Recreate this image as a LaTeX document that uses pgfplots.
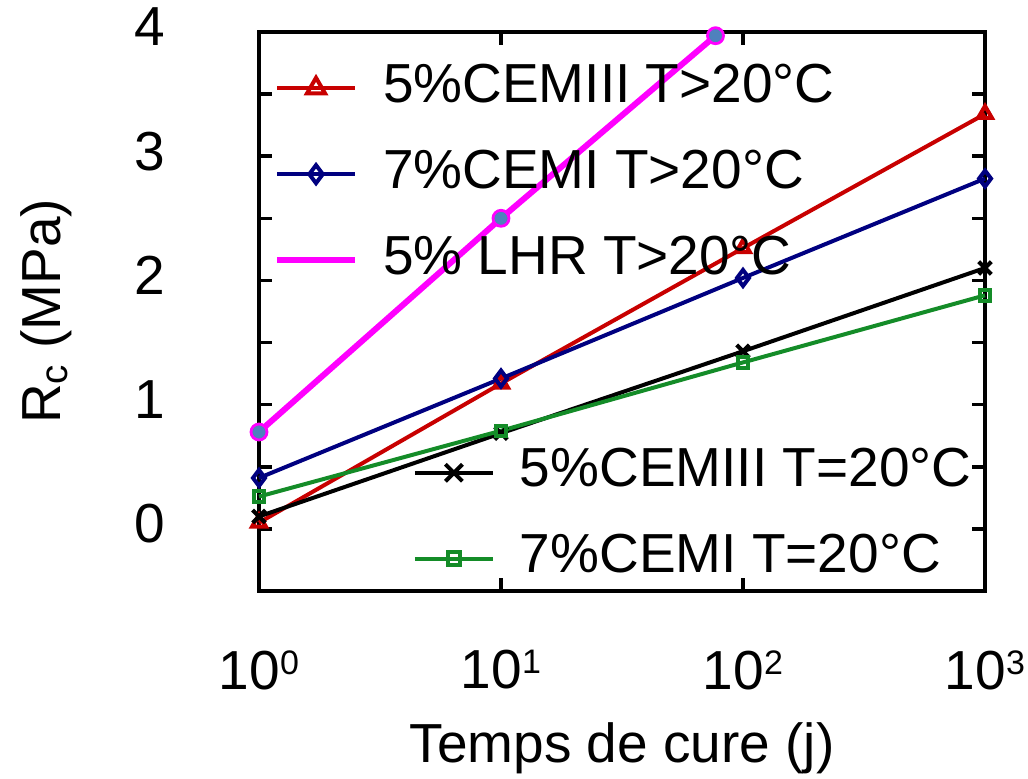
\documentclass[border=0pt]{standalone}
\usepackage{fontspec}
\setmainfont{Liberation Sans}
\usepackage{pgfplots}
\pgfplotsset{compat=1.18}
\definecolor{cRed}{RGB}{200,0,0}
\definecolor{cBlue}{RGB}{0,0,128}
\definecolor{cGreen}{RGB}{20,140,40}
\definecolor{cMag}{RGB}{255,0,255}
\definecolor{cFill}{RGB}{79,129,189}
\newcommand\bigfont{\fontsize{27.5}{33}\selectfont}
\newcommand\pw[1]{10\raisebox{7.5pt}{\fontsize{17}{17}\selectfont #1}}
\pgfplotsset{
  legend image code/.code={\draw[mark repeat=2,mark phase=2]
      plot coordinates {(0pt,0pt)(19.5pt,0pt)(39pt,0pt)};},
  every axis legend/.append style={draw=none, fill=none, inner sep=0pt, outer sep=0pt,
      row sep=17pt, column sep=12.5pt, font=\bigfont,
      nodes={inner sep=0pt, text height=20pt, text depth=6pt},
      cells={anchor=west}},
}
\begin{document}
\begin{tikzpicture}
\begin{axis}[scale only axis, width=363pt, height=279.5pt,
  xmode=log, xmin=1, xmax=1000, ymin=-0.5, ymax=4,
  at={(0pt,0pt)}, anchor=south west, clip=false,
  axis line style={line width=1.8pt},
  tick style={line width=1.8pt, black},
  major tick length=6.5pt, minor tick length=6.5pt,
  xtick={1,10,100,1000}, xticklabels={\pw{0},\pw{1},\pw{2},\pw{3}},
  xminorticks=false,
  ytick={0,1,2,3,4}, yticklabels={0,1,2,3,4},
  minor ytick={0.5,1.5,2.5,3.5},
  tick label style={font=\bigfont},
  xticklabel style={anchor=north, inner sep=0pt, yshift=-29.5pt},
  yticklabel style={anchor=east, inner sep=0pt, xshift=-47pt, yshift=2.5pt},
  label style={font=\bigfont},
  xlabel={Temps de cure (j)}, ylabel={R\textsubscript{c} (MPa)},
  xlabel style={at={(axis description cs:0.5,-0.306)}, anchor=base},
  ylabel style={at={(axis description cs:-0.274,0.5)}, anchor=base},
  legend style={at={(axis description cs:0.0207,0.946)}, anchor=north west},
]
\addlegendimage{cRed, line width=2pt, mark=triangle, mark size=5.2pt, mark options={fill=white}}
\addlegendentry{5\%CEMIII T>20°C}
\addlegendimage{cBlue, line width=2pt, mark=diamond, mark size=4.5pt, mark options={fill=white}}
\addlegendentry{7\%CEMI T>20°C}
\addlegendimage{cMag, line width=3pt}
\addlegendentry{5\% LHR T>20°C}
\addplot[forget plot, cRed, line width=2pt, mark=triangle, mark size=4pt, mark options={fill=white}]
  coordinates {(1,0.05)(10,1.17)(100,2.26)(1000,3.34)};
\addplot[forget plot, cBlue, line width=2pt, mark=diamond, mark size=4pt, mark options={fill=white}]
  coordinates {(1,0.41)(10,1.21)(100,2.02)(1000,2.82)};
\addplot[forget plot, cMag, line width=3pt, mark=*, mark size=4pt, mark options={fill=cFill, draw=cMag, line width=1.4pt}]
  coordinates {(1,0.78)(10,2.50)(77,3.97)};
\end{axis}
\begin{axis}[scale only axis, width=363pt, height=279.5pt,
  xmode=log, xmin=1, xmax=1000, ymin=-0.5, ymax=4,
  at={(0pt,0pt)}, anchor=south west, clip=false, hide axis,
  legend style={at={(axis description cs:0.212,0.258)}, anchor=north west},
]
\addlegendimage{black, line width=2pt, mark=x, mark size=6pt}
\addlegendentry{5\%CEMIII T=20°C}
\addlegendimage{cGreen, line width=2pt, mark=square, mark size=3.2pt, mark options={fill=white}}
\addlegendentry{7\%CEMI T=20°C}
\addplot[forget plot, black, line width=2pt, mark=x, mark size=4.5pt]
  coordinates {(1,0.10)(10,0.77)(100,1.43)(1000,2.10)};
\addplot[forget plot, cGreen, line width=2pt, mark=square, mark size=2.6pt, mark options={fill=white}]
  coordinates {(1,0.26)(10,0.79)(100,1.34)(1000,1.88)};
\end{axis}
\pgfresetboundingbox
\useasboundingbox (-129.5pt,-94pt) rectangle (384.5pt,295.5pt);
\end{tikzpicture}
\end{document}
